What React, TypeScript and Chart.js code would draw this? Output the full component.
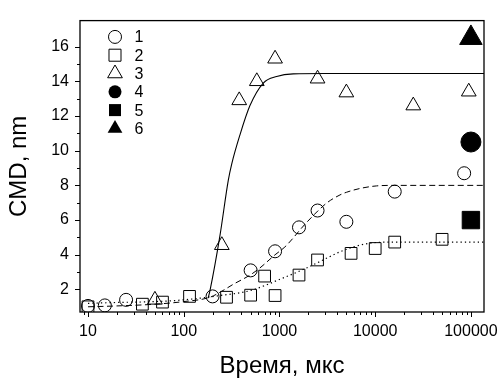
import React, { useEffect, useRef } from 'react';
import { Chart, registerables } from 'chart.js';

Chart.register(...registerables);

// ---- data ----
const seriesLabels = ['1', '2', '3', '4', '5', '6'];

const s1X = [10, 15, 25, 200, 500, 900, 1600, 2500, 5000, 16000, 85000];
const s1Y = [1.05, 1.08, 1.4, 1.6, 3.1, 4.2, 5.58, 6.55, 5.9, 7.64, 8.7];

const s2X = [10, 37, 60, 115, 280, 500, 700, 900, 1600, 2500, 5600, 10000, 16000, 50000];
const s2Y = [1.0, 1.15, 1.27, 1.6, 1.55, 1.67, 2.77, 1.65, 2.83, 3.7, 4.08, 4.36, 4.73, 4.89];

const s3X = [50, 250, 380, 580, 900, 2500, 5000, 25000, 95000];
const s3Y = [1.4, 4.55, 12.9, 14.0, 15.3, 14.15, 13.35, 12.6, 13.4];

const s4X = [100000];
const s4Y = [10.5];
const s5X = [100000];
const s5Y = [6.0];
const s6X = [100000];
const s6Y = [16.5];

// fitted curves
const fit1X = [10, 20, 50, 100, 188, 250, 330, 500, 625, 900, 1140, 1920, 3110, 4290, 5000, 6920, 10360, 16000, 137000];
const fit1Y = [1.0, 1.05, 1.15, 1.3, 1.55, 1.9, 2.3, 2.85, 3.24, 4.0, 4.45, 5.86, 6.98, 7.45, 7.6, 7.82, 7.97, 8.0, 8.0];

const fit2X = [10, 20, 50, 100, 239, 490, 1100, 1920, 3650, 4290, 6900, 11200, 20000, 137000];
const fit2Y = [1.2, 1.25, 1.3, 1.4, 1.65, 1.93, 2.67, 3.24, 3.99, 4.17, 4.55, 4.72, 4.73, 4.73];

const fit3X = [180, 188, 239, 292, 317, 386, 492, 678, 935, 1393, 3000, 137000];
const fit3Y = [1.5, 1.93, 5.1, 8.29, 9.23, 10.9, 12.6, 13.9, 14.28, 14.43, 14.45, 14.45];

const xMin = 8.25;
const xMax = 137000;
const yMin = 0.7;
const yMax = 17.5;

const xTitle = 'Время, мкс';
const yTitle = 'CMD, nm';

const FONT = "'Liberation Sans', Arial, Helvetica, sans-serif";

const pts = (xs: number[], ys: number[]) => xs.map((x, i) => ({ x, y: ys[i] }));

function drawSymbol(ctx: CanvasRenderingContext2D, style: string, filled: boolean, cx: number, cy: number, r: number) {
  ctx.beginPath();
  if (style === 'circle') {
    ctx.arc(cx, cy, r, 0, Math.PI * 2);
  } else if (style === 'rect') {
    const s = r * Math.SQRT1_2;
    ctx.rect(cx - s, cy - s, 2 * s, 2 * s);
  } else {
    const w = r * Math.sin((2 * Math.PI) / 3);
    ctx.moveTo(cx, cy - r);
    ctx.lineTo(cx + w, cy + r / 2);
    ctx.lineTo(cx - w, cy + r / 2);
    ctx.closePath();
  }
  if (filled) {
    ctx.fillStyle = '#000';
    ctx.fill();
  } else {
    ctx.strokeStyle = '#000';
    ctx.lineWidth = 1;
    ctx.stroke();
  }
}

const framePlugin = {
  id: 'frameTicks',
  afterDraw(chart: any) {
    const { ctx, chartArea, scales } = chart;
    const { left, right, top, bottom } = chartArea;
    const xs = scales.x;
    const ys = scales.y;
    ctx.save();
    ctx.strokeStyle = '#000';
    ctx.lineWidth = 1.3;
    ctx.strokeRect(left, top, right - left, bottom - top);
    ctx.lineWidth = 1;
    // y ticks (outward)
    ys.ticks.forEach((t: any) => {
      const v = t.value;
      if (!Number.isInteger(v)) return;
      const py = Math.round(ys.getPixelForValue(v)) + 0.5;
      const len = v % 2 === 0 ? 5 : 3;
      ctx.beginPath();
      ctx.moveTo(left, py);
      ctx.lineTo(left - len, py);
      ctx.stroke();
    });
    // x ticks (outward)
    xs.ticks.forEach((t: any) => {
      const v = t.value;
      const p = Math.pow(10, Math.floor(Math.log10(v)));
      const m = v / p;
      if (Math.abs(m - Math.round(m)) > 1e-6) return;
      const px = Math.round(xs.getPixelForValue(v)) + 0.5;
      const len = Math.round(m) === 1 ? 5 : 3;
      ctx.beginPath();
      ctx.moveTo(px, bottom);
      ctx.lineTo(px, bottom + len);
      ctx.stroke();
    });

    // legend inside the plot
    const sets = chart.data.datasets.filter((d: any) => d.isSeries);
    ctx.font = `16px ${FONT}`;
    ctx.fillStyle = '#000';
    ctx.textAlign = 'center';
    ctx.textBaseline = 'middle';
    sets.forEach((d: any, i: number) => {
      const cy = top + 16.3 + i * 18.3;
      const cx = left + 35;
      const r = d.pointStyle === 'circle' ? 6.5 : d.pointStyle === 'rect' ? 8.5 : 8.5;
      drawSymbol(ctx, d.pointStyle, d.filled, cx, cy, r);
      ctx.fillStyle = '#000';
      ctx.fillText(d.label, left + 59, cy + 1);
    });
    ctx.restore();
  },
};

export default function App() {
  const ref = useRef<HTMLCanvasElement | null>(null);

  useEffect(() => {
    if (!ref.current) return;
    Chart.defaults.font.family = FONT;
    Chart.defaults.color = '#000';

    const series = (label: string, xs: number[], ys: number[], style: string, filled: boolean, r: number) => ({
      label,
      data: pts(xs, ys),
      isSeries: true,
      filled,
      showLine: false,
      pointStyle: style,
      pointRadius: r,
      pointHoverRadius: r,
      pointBorderWidth: 1,
      borderColor: '#000',
      pointBorderColor: '#000',
      pointBackgroundColor: filled ? '#000' : 'rgba(0,0,0,0)',
      backgroundColor: filled ? '#000' : 'rgba(0,0,0,0)',
      order: 1,
    });

    const fit = (xs: number[], ys: number[], dash: number[], width: number) => ({
      label: '',
      data: pts(xs, ys),
      showLine: true,
      pointRadius: 0,
      borderColor: '#000',
      borderWidth: width,
      borderDash: dash,
      cubicInterpolationMode: 'monotone',
      fill: false,
      order: 2,
    });

    const chart = new Chart(ref.current, {
      type: 'scatter',
      data: {
        datasets: [
          fit(fit1X, fit1Y, [6, 3.5], 1),
          fit(fit2X, fit2Y, [1.3, 3], 1.2),
          fit(fit3X, fit3Y, [], 1.1),
          series(seriesLabels[0], s1X, s1Y, 'circle', false, 6.5),
          series(seriesLabels[1], s2X, s2Y, 'rect', false, 8.3),
          series(seriesLabels[2], s3X, s3Y, 'triangle', false, 8.5),
          series(seriesLabels[3], s4X, s4Y, 'circle', true, 10),
          series(seriesLabels[4], s5X, s5Y, 'rect', true, 12.3),
          series(seriesLabels[5], s6X, s6Y, 'triangle', true, 13),
        ] as any,
      },
      options: {
        animation: false,
        responsive: false,
        maintainAspectRatio: false,
        layout: { padding: { left: 0, top: 13, right: 15, bottom: 0 } },
        plugins: {
          legend: { display: false },
          tooltip: { enabled: false },
        },
        scales: {
          x: {
            type: 'logarithmic',
            min: xMin,
            max: xMax,
            grid: { display: false, drawTicks: false },
            border: { display: false },
            ticks: {
              autoSkip: false,
              maxRotation: 0,
              padding: 10,
              font: { size: 16 },
              color: '#000',
              callback: (v: any) => {
                const l = Math.log10(Number(v));
                return Math.abs(l - Math.round(l)) < 1e-9 ? String(Math.round(Number(v))) : '';
              },
            },
            title: {
              display: true,
              text: xTitle,
              font: { size: 24, lineHeight: 1 },
              color: '#000',
              padding: { top: 0, bottom: 0 },
            },
            afterFit: (s: any) => {
              s.height = 66;
            },
          },
          y: {
            type: 'linear',
            min: yMin,
            max: yMax,
            grid: { display: false, drawTicks: false },
            border: { display: false },
            ticks: {
              autoSkip: false,
              stepSize: 1,
              padding: 11,
              font: { size: 16 },
              color: '#000',
              callback: (v: any) => {
                const n = Number(v);
                return Number.isInteger(n) && n % 2 === 0 ? String(n) : '';
              },
            },
            title: {
              display: true,
              text: yTitle,
              font: { size: 24, lineHeight: 1 },
              color: '#000',
              padding: { top: 7, bottom: 0 },
            },
            afterFit: (s: any) => {
              s.width = 80;
            },
          },
        },
      },
      plugins: [framePlugin],
    } as any);

    return () => chart.destroy();
  }, []);

  return (
    <div style={{ position: 'fixed', left: 0, top: 0, width: 499, height: 378, background: '#fff' }}>
      <canvas ref={ref} width={499} height={378} style={{ width: 499, height: 378, display: 'block' }} />
    </div>
  );
}
